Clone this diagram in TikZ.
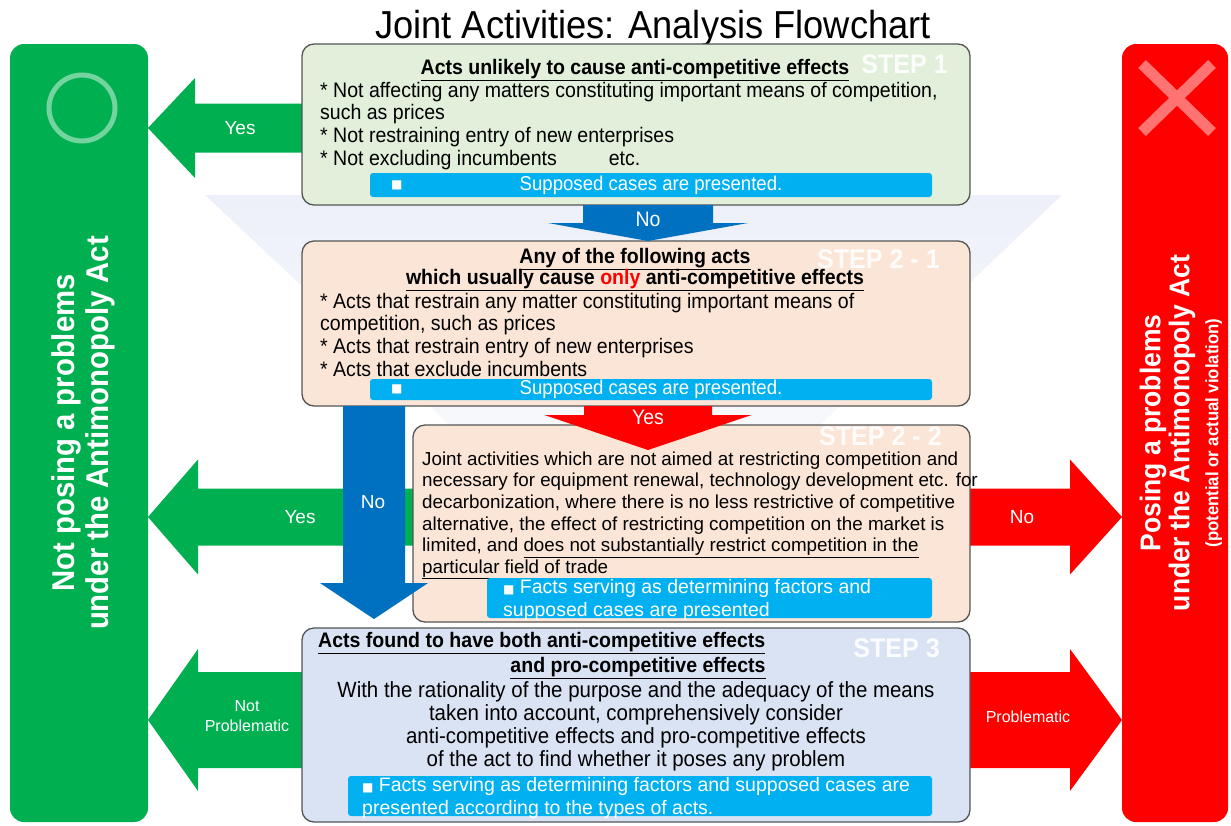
\documentclass[tikz,border=0pt]{standalone}
\usepackage{fontspec}
\setmainfont{Liberation Sans}
\newfontfamily\narrowfont[FakeStretch=0.93]{Liberation Sans}
\newfontfamily\symbfont{DejaVu Sans}
\usetikzlibrary{calc,positioning,backgrounds}

\definecolor{okgreen}{RGB}{0,176,80}
\definecolor{ngred}{RGB}{255,0,0}
\definecolor{flowblue}{RGB}{0,112,192}
\definecolor{barblue}{RGB}{0,176,240}
\definecolor{stepAfill}{RGB}{226,239,218}
\definecolor{stepBfill}{RGB}{251,229,214}
\definecolor{stepCfill}{RGB}{218,227,243}
\definecolor{boxline}{RGB}{85,85,85}
\definecolor{funnel}{RGB}{237,240,249}

% block arrow: colour, tail, tip, shaft width, head width, head length
\newcommand\blockarrow[6]{%
  \coordinate (headbase) at ($(#3)!#6!(#2)$);
  \fill[#1] ($(#2)!#4/2!90:(#3)$) -- ($(headbase)!#4/2!90:(#3)$)
    -- ($(headbase)!#5/2!90:(#3)$) -- (#3)
    -- ($(headbase)!#5/2!-90:(#3)$) -- ($(headbase)!#4/2!-90:(#3)$)
    -- ($(#2)!#4/2!-90:(#3)$) -- cycle;}
\newcommand\sqmark{{\symbfont\fontsize{12}{12}\selectfont ■}}

\begin{document}
\begin{tikzpicture}[x=1pt, y=-1pt]

\tikzset{
    stepbox/.style={draw=boxline, line width=1.3pt, rounded corners=12pt, inner sep=0pt, outer sep=0pt},
    sidebox/.style={rounded corners=14pt, inner sep=0pt, outer sep=0pt},
    bar/.style={fill=barblue, rounded corners=3pt, inner sep=0pt, text=white},
    steplbl/.style={text=white, opacity=0.9, inner sep=0pt, font={\narrowfont\bfseries\fontsize{27}{27}\selectfont}},
    head/.style={inner sep=0pt, font={\narrowfont\bfseries\fontsize{21}{21}\selectfont}},
    body/.style={anchor=north west, inner sep=0pt, align=left, font={\narrowfont\fontsize{21}{22.7}\selectfont}},
    bartext/.style={anchor=north west, inner sep=0pt, align=left, text=white, font={\fontsize{19.5}{23.5}\selectfont}},
    lbl/.style={text=white, inner sep=0pt, align=center, font={\fontsize{19}{22}\selectfont}},
    vlbl/.style={text=white, inner sep=0pt, font={\narrowfont\fontsize{21}{21}\selectfont}},
    sq/.style={text=white, inner sep=0pt},
}
\useasboundingbox (0,0) rectangle (1231,825);

%% Title
\node[anchor=base, inner sep=0pt, font={\narrowfont\fontsize{39}{39}\selectfont}] (title) at (653,38) {Joint Activities: Analysis Flowchart};

%% Outcomes
\node[sidebox, fill=okgreen, minimum width=138, minimum height=778] (okbox) at (79,433) {};
\draw[okgreen!55!white, line width=5pt] (82,108) circle (33);
\node[rotate=90, text=white, align=center, inner sep=0pt, font={\narrowfont\bfseries\fontsize{31.5}{34}\selectfont}] (oktext) at (83,433) {Not posing a problems\\under the Antimonopoly Act};

\node[sidebox, fill=ngred, minimum width=106, minimum height=778] (ngbox) at (1175,433) {};
\draw[ngred!55!white, line width=11pt] (1142,64) -- (1212,132) (1142,132) -- (1212,64);
\node[rotate=90, text=white, align=center, inner sep=0pt, font={\narrowfont\bfseries\fontsize{28.5}{29}\selectfont}] (ngtext) at (1181,433) {Posing a problems\\under the Antimonopoly Act\\{\fontsize{18}{18}\selectfont(potential or actual violation)}};

%% Steps
\node[stepbox, fill=stepAfill, minimum width=668, minimum height=161] (step1) at (636,124.5) {};
\node[stepbox, fill=stepBfill, minimum width=668, minimum height=165, below=36pt of step1] (step21) {};
\node[stepbox, fill=stepBfill, minimum width=557, minimum height=197, anchor=north east] (step22) at ([yshift=-19pt]step21.south east) {};
\node[stepbox, fill=stepCfill, minimum width=668, minimum height=194, below=222pt of step21] (step3) {};

\node[steplbl, below left=10pt and 22pt of step1.north east] (lbl1) {STEP 1};
\node[steplbl, below left=8pt and 30pt of step21.north east] (lbl21) {STEP 2 - 1};
\node[steplbl, below left=1pt and 28pt of step22.north east] (lbl22) {STEP 2 - 2};
\node[steplbl, below left=10pt and 30pt of step3.north east] (lbl3) {STEP 3};

% step 1
\node[head, anchor=base] (headA) at (635,74) {\underline{Acts unlikely to cause anti-competitive effects}};
\node[body] (listA) at (320,81.1) {\strut* Not affecting any matters constituting important means of competition,\\such as prices\\* Not restraining entry of new enterprises\\* Not excluding incumbents\hspace{52pt}etc.};
\node[bar, minimum width=562, minimum height=24, font={\narrowfont\fontsize{20}{20}\selectfont}] (barA) at (651,185) {Supposed cases are presented.};
\node[sq, right=21pt of barA.west] (sqA) {\sqmark};

% step 2-1
\node[head, anchor=base] (headB1) at (635,263) {\underline{Any of the following acts}};
\node[head, anchor=base] (headB2) at (635,284) {\underline{which usually cause \textcolor{ngred}{only} anti-competitive effects}};
\node[body] (listB) at (320,292.1) {\strut* Acts that restrain any matter constituting important means of\\competition, such as prices\\* Acts that restrain entry of new enterprises\\* Acts that exclude incumbents};
\node[bar, minimum width=562, minimum height=21, font={\narrowfont\fontsize{20}{20}\selectfont}] (barB) at (651,389.5) {Supposed cases are presented.};
\node[sq, right=21pt of barB.west] (sqB) {\sqmark};

% step 2-2
\node[body, font={\fontsize{18.8}{21.6}\selectfont}] (listC) at (422,450) {\strut Joint activities which are not aimed at restricting competition and\\necessary for equipment renewal, technology development etc. for\\decarbonization, where there is no less restrictive of competitive\\alternative, the effect of restricting competition on the market is\\limited, and \underline{does not substantially restrict competition in the}\\\underline{particular field of trade}};
\node[bar, minimum width=445, minimum height=40] (barC) at (709.5,598) {};
\node[bartext] (barCtext) at (503,576.5) {\strut\sqmark\ Facts serving as determining factors and\\supposed cases are presented};

% step 3
\node[head, anchor=base west] (headD1) at (318,647) {\underline{Acts found to have both anti-competitive effects}};
\node[head, anchor=base] (headD2) at (638,672) {\underline{and pro-competitive effects}};
\node[body, anchor=north, align=center, font={\narrowfont\fontsize{22}{23}\selectfont}] (listD) at (636,680.9) {\strut With the rationality of the purpose and the adequacy of the means\\taken into account, comprehensively consider\\anti-competitive effects and pro-competitive effects\\of the act to find whether it poses any problem};
\node[bar, minimum width=584, minimum height=40] (barD) at (640,796) {};
\node[bartext] (barDtext) at (362,774.5) {\strut\sqmark\ Facts serving as determining factors and supposed cases are\\presented according to the types of acts.};

%% Connectors
\coordinate (yesAtail) at (step1.west |- 0,128);
\coordinate (yesAtip) at (okbox.east |- 0,128);
\coordinate (yesBtail) at (step22.west |- 0,517);
\coordinate (yesBtip) at (okbox.east |- 0,517);
\coordinate (yesCtail) at (step3.west |- 0,720);
\coordinate (yesCtip) at (okbox.east |- 0,720);
\coordinate (noCtail) at (step22.east |- 0,517);
\coordinate (noCtip) at (ngbox.west |- 0,517);
\coordinate (probtail) at (step3.east |- 0,720);
\coordinate (probtip) at (ngbox.west |- 0,720);

\begin{scope}[on background layer]
    \shade[top color=funnel, bottom color=white] (205,195) -- (1062,195) -- (636,600) -- cycle;
    \blockarrow{okgreen}{yesAtail}{yesAtip}{49pt}{100pt}{47pt}
    \blockarrow{okgreen}{yesBtail}{yesBtip}{57pt}{115pt}{50pt}
    \blockarrow{okgreen}{yesCtail}{yesCtip}{96pt}{142pt}{50pt}
    \blockarrow{ngred}{noCtail}{noCtip}{57pt}{115pt}{52pt}
    \blockarrow{ngred}{probtail}{probtip}{96pt}{142pt}{52pt}
\end{scope}

\coordinate (noAtail) at (step1.south -| 648,0);
\coordinate (noAtip) at (step21.north -| 648,0);
\coordinate (yesDtail) at (step21.south -| 648,0);
\coordinate (yesDtip) at (648,450);
\coordinate (noBtail) at (step21.south -| 374,0);
\coordinate (noBtip) at (374,619);
\blockarrow{flowblue}{noAtail}{noAtip}{130pt}{200pt}{18pt}
\blockarrow{ngred}{yesDtail}{yesDtip}{128pt}{207pt}{35pt}
\blockarrow{flowblue}{noBtail}{noBtip}{62pt}{108pt}{36pt}

\node[lbl] (yesAlbl) at (240,128) {Yes};
\node[lbl] (yesBlbl) at (300,517) {Yes};
\node[lbl, font={\fontsize{16}{20}\selectfont}] (yesClbl) at (247,716) {Not\\Problematic};
\node[lbl] (noClbl) at (1022,517) {No};
\node[lbl, font={\fontsize{16}{20}\selectfont}] (problbl) at (1028,717) {Problematic};
\node[vlbl] (noAlbl) at (648,219) {No};
\node[vlbl] (yesDlbl) at (648,417) {Yes};
\node[lbl] (noBlbl) at (373,502) {No};
\end{tikzpicture}
\end{document}
